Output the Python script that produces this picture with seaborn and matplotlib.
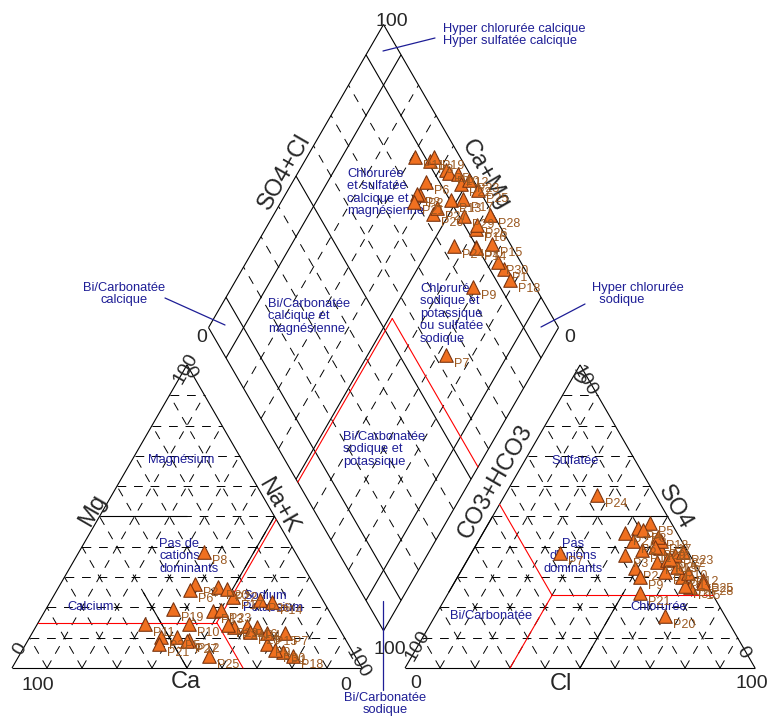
import numpy as np
import pandas as pd
import matplotlib
matplotlib.use("Agg")
import matplotlib.pyplot as plt
import seaborn as sns

sns.set_style("white")
plt.rcParams['font.family'] = ['Liberation Sans', 'DejaVu Sans']

# Samples and their ionic composition (meq %)
samples = ["P1", "P2", "P3", "P4", "P5", "P6", "P7", "P8", "P9", "P10",
           "P11", "P12", "P13", "P14", "P15", "P16", "P17", "P18", "P19", "P20",
           "P21", "P22", "P23", "P24", "P25", "P26", "P27", "P28", "P29", "P30"]
ca = [19.8, 33.9, 52.4, 23.4, 47.9, 36.3, 16.3, 25.9, 23.2, 42.2,
      54.8, 44.9, 33.1, 14.9, 21.5, 26.0, 25.0, 17.6, 44.2, 27.7,
      54.0, 25.7, 30.8, 29.9, 41.6, 17.9, 45.5, 26.0, 31.1, 22.0]
mg = [5.4, 27.6, 10.1, 13.4, 10.1, 25.7, 11.5, 38.4, 8.0, 14.5,
      14.4, 9.2, 18.8, 21.9, 11.4, 13.9, 23.5, 4.0, 19.4, 26.8,
      8.0, 26.0, 19.1, 13.5, 4.0, 22.4, 9.0, 12.0, 14.2, 6.0]
nak = [74.8, 38.5, 37.5, 63.2, 42.0, 38.0, 72.2, 35.7, 68.8, 43.3,
       30.8, 45.9, 48.1, 63.2, 67.1, 60.1, 51.5, 78.4, 36.4, 45.5,
       38.0, 48.3, 50.1, 56.6, 54.4, 59.7, 45.5, 62.0, 54.7, 72.0]
hco3 = [6.0, 17.9, 18.5, 10.2, 6.1, 13.8, 36.7, 9.2, 17.8, 5.8,
        12.8, 3.5, 9.8, 10.5, 5.2, 7.4, 6.0, 6.0, 7.4, 17.1,
        20.5, 4.2, 1.3, 16.6, 0.3, 6.3, 14.9, 1.0, 8.6, 6.5]
so4 = [30.0, 32.9, 37.3, 46.3, 47.7, 41.9, 38.1, 45.5, 30.1, 33.2,
       38.9, 31.2, 31.8, 35.1, 26.8, 39.5, 42.0, 43.3, 35.6, 17.2,
       24.6, 37.3, 38.4, 57.1, 29.0, 36.0, 44.4, 28.0, 40.0, 27.0]
cl = [64.0, 49.2, 44.2, 43.5, 46.2, 44.3, 25.2, 45.3, 52.1, 61.0,
      48.3, 65.3, 58.4, 54.4, 68.0, 53.1, 52.0, 50.7, 57.0, 65.7,
      54.9, 58.5, 60.3, 26.3, 70.7, 57.7, 40.7, 71.0, 51.4, 66.5]

# Piper geometry (triangle side = 100)
H = np.sqrt(3) / 2
GAP = 12.3
OFF = 100 + GAP
BASE = (100 + GAP / 2, GAP * H)
SCALE = 3.5          # pixels per percent
X0, Y0 = 12, 668     # pixel position of the Ca = 100 corner


def px(x, y):
    """Pixel position (from the top-left of the picture) to plot units."""
    return (x - X0) / SCALE, (Y0 - y) / SCALE


def cation_xy(m, n):
    return n + m / 2, m * H


def anion_xy(s, c):
    return OFF + c + s / 2, s * H


def diamond_xy(s, c):
    return BASE[0] + (s - c) / 2, BASE[1] + (s + c) * H


def seg(ax, p, q, **kw):
    ax.plot([p[0], q[0]], [p[1], q[1]], **kw)


BLUE = '#1e1e96'
BROWN = '#9a5820'
solid = dict(color='black', lw=0.8, solid_capstyle='butt')
dashed = dict(color='black', lw=0.7, linestyle=(0, (9, 8)))
red = dict(color='red', lw=0.8)

fig = plt.figure(figsize=(7.67, 7.24), dpi=100)
ax = fig.add_axes([0, 0, 1, 1])
ax.set_xlim(px(0, 0)[0], px(767, 0)[0])
ax.set_ylim(px(0, 724)[1], px(0, 0)[1])
ax.axis('off')

# Triangles grid (10 % steps)
for f in (cation_xy, anion_xy):
    for k in range(10, 100, 10):
        seg(ax, f(k, 0), f(k, 100 - k), **dashed)
        seg(ax, f(0, k), f(100 - k, k), **dashed)
        seg(ax, f(0, 100 - k), f(100 - k, 0), **dashed)
    for p, q in [((0, 0), (0, 100)), ((0, 100), (100, 0)), ((100, 0), (0, 0))]:
        seg(ax, f(*p), f(*q), **solid)

# dominant ion fields, half of each 50 % line
seg(ax, cation_xy(50, 0), cation_xy(50, 25), **solid)
seg(ax, cation_xy(50, 50), cation_xy(25, 50), **solid)
seg(ax, cation_xy(0, 50), cation_xy(25, 25), **solid)
seg(ax, anion_xy(50, 50), anion_xy(50, 25), **solid)
seg(ax, anion_xy(50, 0), anion_xy(25, 0), **solid)
seg(ax, anion_xy(0, 50), anion_xy(25, 50), **solid)

# Diamond grid
for k in range(10, 100, 10):
    st = solid if k in (10, 50, 90) else dashed
    seg(ax, diamond_xy(k, 0), diamond_xy(k, 100), **st)
    seg(ax, diamond_xy(0, k), diamond_xy(100, k), **st)
for p, q in [((0, 0), (100, 0)), ((100, 0), (100, 100)),
             ((100, 100), (0, 100)), ((0, 100), (0, 0))]:
    seg(ax, diamond_xy(*p), diamond_xy(*q), **solid)

# Red boundaries (Bi/Carbonatee sodique field)
seg(ax, cation_xy(49, 51), cation_xy(15, 51), **red)
seg(ax, cation_xy(15, 0), cation_xy(15, 51), **red)
seg(ax, cation_xy(15, 51), cation_xy(0, 66), **red)
seg(ax, anion_xy(54, 0), anion_xy(24, 30), **red)
seg(ax, anion_xy(24, 30), anion_xy(24, 76), **red)
seg(ax, anion_xy(24, 30), anion_xy(0, 30), **red)
seg(ax, diamond_xy(0, 49), diamond_xy(54, 49), **red)
seg(ax, diamond_xy(54, 49), diamond_xy(54, 0), **red)

# Projected sample positions
rows = []
for i, name in enumerate(samples):
    x, y = cation_xy(mg[i], nak[i])
    rows.append((name, x, y))
    x, y = anion_xy(so4[i], cl[i])
    rows.append((name, x, y))
    x, y = diamond_xy(so4[i] + cl[i], ca[i] + mg[i])
    rows.append((name, x, y))
pts = pd.DataFrame(rows, columns=['sample', 'x', 'y'])

sns.scatterplot(data=pts, x='x', y='y', marker='^', s=95, color='#f07020',
                edgecolor='#7a3510', linewidth=0.8, ax=ax, legend=False, zorder=5)
for _, r in pts.iterrows():
    ax.text(r.x + 8 / SCALE, r.y - 9 / SCALE, r['sample'], color=BROWN,
            fontsize=9, ha='left', va='center', zorder=6)

# Region names
regions = [
    ("Chlorurée\net sulfatée\ncalcique et\nmagnésienne", 347, 168, 'left'),
    ("Bi/Carbonatée\ncalcique et\nmagnésienne", 268, 298, 'left'),
    ("Chlorurée\nsodique et\npotassique\nou sulfatée\nsodique", 420, 283, 'left'),
    ("Bi/Carbonatée\nsodique et\npotassique", 343, 431, 'left'),
    ("Hyper chlorurée calcique\nHyper sulfatée calcique", 443, 23, 'left'),
    ("Bi/Carbonatée\ncalcique", 124, 282, 'center'),
    ("Hyper chlorurée\n  sodique", 592, 282, 'left'),
    ("Bi/Carbonatée\nsodique", 385, 692, 'center'),
    ("Magnésium", 181, 454, 'center'),
    ("Pas de\ncations\ndominants", 159, 538, 'left'),
    ("Calcium", 91, 601, 'center'),
    ("Sodium\nPotassium", 243, 590, 'left'),
    ("Sulfatée", 575, 455, 'center'),
    ("Pas\nd'anions\ndominants", 573, 538, 'center'),
    ("Bi/Carbonatée", 491, 610, 'center'),
    ("Chlorurée", 659, 601, 'center'),
]
for txt, x, y, ha in regions:
    ax.text(*px(x, y), txt, color=BLUE, fontsize=9.3, ha=ha, va='top',
            multialignment=ha, linespacing=1.05, zorder=4)

# Pointers to the corner fields
for (x1, y1), (x2, y2) in [((383, 51), (435, 38)), ((165, 298), (225, 325)),
                           ((541, 327), (585, 304)), ((383, 601), (383, 690))]:
    seg(ax, px(x1, y1), px(x2, y2), color=BLUE, lw=0.9)

# Axis names
axis_names = [("SO4+Cl", 285, 172, 60), ("Ca+Mg", 485, 175, -60),
              ("Mg", 93, 510, 60), ("Na+K", 278, 506, -60), ("Ca", 186, 682, 0),
              ("CO3+HCO3", 495, 482, 60), ("SO4", 675, 507, -60), ("Cl", 561, 684, 0)]
for txt, x, y, rot in axis_names:
    ax.text(*px(x, y), txt, fontsize=17, rotation=rot, ha='center', va='center',
            rotation_mode='anchor')

# Scale values
ticks = [("100", 392, 21, 0), ("0", 202, 337, 0), ("0", 570, 337, 0), ("100", 390, 650, 0),
         ("100", 38, 685, 0), ("0", 20, 649, 60), ("0", 346, 685, 0), ("100", 358, 663, -60),
         ("100", 186, 369, 60), ("0", 190, 372, -60),
         ("100", 418, 646, 60), ("0", 416, 684, 0), ("0", 743, 652, -60), ("100", 752, 684, 0),
         ("100", 585, 381, -60), ("0", 582, 378, 60)]
for txt, x, y, rot in ticks:
    ax.text(*px(x, y), txt, fontsize=14, rotation=rot, ha='center', va='center',
            rotation_mode='anchor')

fig.savefig("out.png", dpi=100)
